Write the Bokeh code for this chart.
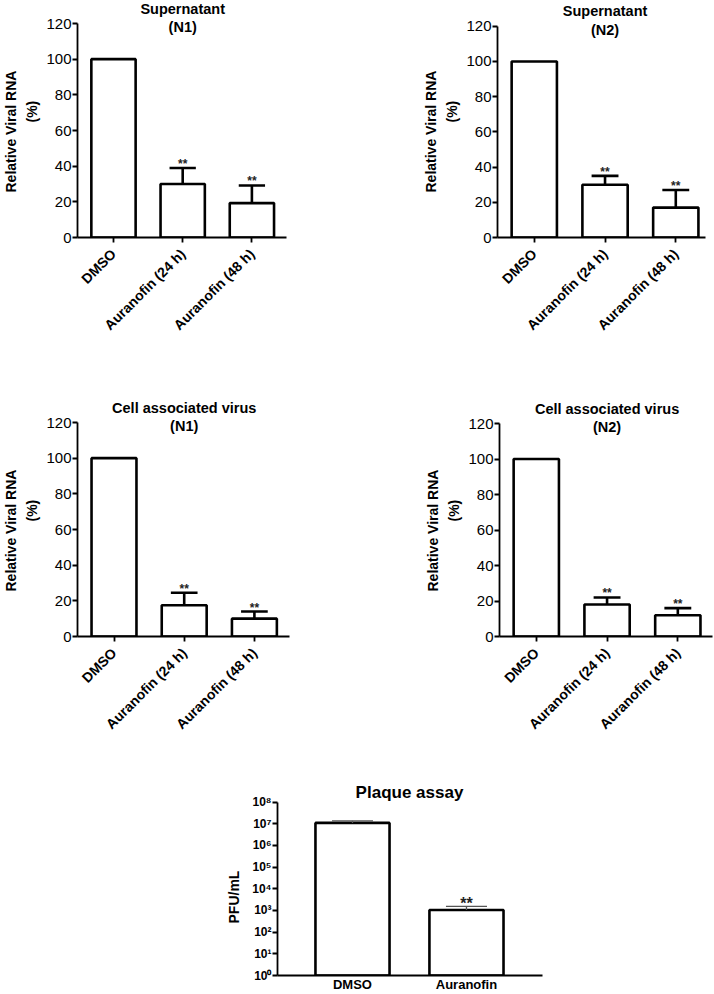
import math
from bokeh.plotting import figure
from bokeh.layouts import column, row
from bokeh.models import Range1d, FixedTicker, CustomJSTickFormatter, Title
from bokeh.core.properties import value
from bokeh.embed import file_html
from bokeh.resources import INLINE

FONT = "Liberation Sans"

# ---------------- data ----------------
categories = ["DMSO", "Auranofin (24 h)", "Auranofin (48 h)"]
y_ticks = [0, 20, 40, 60, 80, 100, 120]
y_label_lines = ["Relative Viral RNA", "(%)"]

sup_n1_mean = [100, 30, 19.3]
sup_n1_sd = [0, 9, 9.9]

sup_n2_mean = [100, 30, 17]
sup_n2_sd = [0, 5, 10]

cell_n1_mean = [100, 17.5, 10]
cell_n1_sd = [0, 7, 4]

cell_n2_mean = [100, 18, 12]
cell_n2_sd = [0, 4, 4]

plaque_categories = ["DMSO", "Auranofin"]
plaque_mean = [1.1e7, 1.05e3]
plaque_sd = [0.27e7, 0.5e3]
plaque_ticks = [1e0, 1e1, 1e2, 1e3, 1e4, 1e5, 1e6, 1e7, 1e8]


def style_axes(p):
    p.grid.visible = False
    p.outline_line_color = None
    p.background_fill_color = "white"
    p.border_fill_color = "white"
    p.axis.axis_line_width = 1.8
    p.axis.axis_line_color = "black"
    p.axis.major_tick_line_width = 1.8
    p.axis.major_tick_line_color = "black"
    p.axis.minor_tick_line_color = None
    p.axis.major_tick_in = 0
    p.axis.major_tick_out = 5
    p.axis.major_label_text_font = FONT
    p.axis.axis_label_text_font = FONT
    p.axis.major_label_text_color = "black"
    p.axis.axis_label_text_color = "black"


def side_title(text, offset, standoff, size="14px"):
    # vertical axis caption line, placed in the left side panel
    return Title(text=text, align="left", offset=offset, standoff=standoff,
                 text_font=FONT, text_font_size=size, text_font_style="bold",
                 text_color="black")


def pct_panel(t1, t2, means, sds, x_end, fl, fr, y120, y0px, x0, top, w, h):
    # frame starts at the figure top; y120/y0px are pixel rows of 120 and 0
    xs = list(range(len(categories)))
    y_end = 120 * (y0px - top) / (y0px - y120)
    p = figure(width=w, height=h, title=None, toolbar_location=None,
               output_backend="svg",
               x_range=Range1d(-0.52, x_end), y_range=Range1d(0, y_end),
               min_border_left=fl - x0, min_border_right=x0 + w - fr,
               min_border_top=0, min_border_bottom=top + h - y0px)
    style_axes(p)
    p.vbar(x=xs, top=means, bottom=0, width=0.64, fill_color="white",
           line_color="black", line_width=2.6)
    ex = [xs[i] for i in range(len(xs)) if sds[i] > 0]
    lo = [means[i] for i in range(len(xs)) if sds[i] > 0]
    hi = [means[i] + sds[i] for i in range(len(xs)) if sds[i] > 0]
    p.segment(x0=ex, y0=lo, x1=ex, y1=hi, line_color="black", line_width=2.6)
    p.segment(x0=[x - 0.19 for x in ex], y0=hi, x1=[x + 0.19 for x in ex], y1=hi,
              line_color="black", line_width=2.6)
    p.text(x=ex, y=hi, text=["**"] * len(ex), text_align="center",
           text_baseline="alphabetic", y_offset=-4,
           text_font=value(FONT), text_font_style="bold", text_font_size="12px",
           text_color="#222222")

    # two-line panel title, centred over the middle category
    p.text(x=[1, 1], y=[120, 120], text=[t1, t2], y_offset=[-15, 3.5],
           text_align="center", text_baseline="middle",
           text_font=value(FONT), text_font_style="bold", text_font_size="14.5px",
           text_color="black")

    p.xaxis.ticker = FixedTicker(ticks=xs)
    p.xaxis.major_label_overrides = {i: c for i, c in enumerate(categories)}
    p.xaxis.major_label_orientation = math.pi / 4
    p.xaxis.major_label_text_font_style = "bold"
    p.xaxis.major_label_text_font_size = "14px"
    p.xaxis.major_label_standoff = 9

    p.yaxis.bounds = (0, 120)
    p.yaxis.ticker = FixedTicker(ticks=y_ticks)
    p.yaxis.major_label_text_font_size = "15px"
    p.yaxis.major_label_standoff = 1

    # y caption: "(%)" nearest the axis, then "Relative Viral RNA"
    p.add_layout(side_title(y_label_lines[1], 115, 7), "left")
    p.add_layout(side_title(y_label_lines[0], 45, 0), "left")
    return p


p1 = pct_panel("Supernatant", "(N1)", sup_n1_mean, sup_n1_sd, 2.5,
               70, 286, 23, 237, 0, 0, 420, 380)
p2 = pct_panel("Supernatant", "(N2)", sup_n2_mean, sup_n2_sd, 2.42,
               495, 705, 26, 239, 420, 0, 294, 380)
p3 = pct_panel("Cell associated virus", "(N1)", cell_n1_mean, cell_n1_sd, 2.5,
               73, 289, 422, 636, 0, 380, 422, 380)
p4 = pct_panel("Cell associated virus", "(N2)", cell_n2_mean, cell_n2_sd, 2.49,
               497, 712, 423, 636, 422, 380, 292, 380)

# ---------------- plaque assay ----------------
px = list(range(len(plaque_categories)))
top5, y8px, y0px5, h5 = 760, 802, 977, 234
exp_end = 8 * (y0px5 - top5) / (y0px5 - y8px)
p5 = figure(width=714, height=h5, title=None, toolbar_location=None,
            output_backend="svg", y_axis_type="log",
            x_range=Range1d(-0.658, 1.667), y_range=Range1d(1, 10 ** exp_end),
            min_border_left=277, min_border_right=714 - 542,
            min_border_top=0, min_border_bottom=top5 + h5 - y0px5)
style_axes(p5)
p5.vbar(x=px, top=plaque_mean, bottom=1, width=0.65, fill_color="white",
        line_color="black", line_width=2.6)
p_hi = [m + s for m, s in zip(plaque_mean, plaque_sd)]
p5.segment(x0=px, y0=plaque_mean, x1=px, y1=p_hi, line_color="#555555", line_width=1.3)
p5.segment(x0=[x - 0.18 for x in px], y0=p_hi, x1=[x + 0.18 for x in px], y1=p_hi,
           line_color="#555555", line_width=1.3)
p5.text(x=[px[1]], y=[p_hi[1]], text=["**"], text_align="center",
        text_baseline="alphabetic", y_offset=-3,
        text_font=value(FONT), text_font_style="bold", text_font_size="16px",
        text_color="#222222")
p5.text(x=[0.5], y=[1e8], text=["Plaque assay"], y_offset=-10,
        text_align="center", text_baseline="middle", text_font=value(FONT),
        text_font_style="bold", text_font_size="17px", text_color="black")
p5.xaxis.ticker = FixedTicker(ticks=px)
p5.xaxis.major_label_overrides = {i: c for i, c in enumerate(plaque_categories)}
p5.xaxis.major_tick_line_color = None
p5.xaxis.major_tick_out = 0
p5.xaxis.major_label_standoff = 1
p5.xaxis.major_label_text_font_style = "bold"
p5.xaxis.major_label_text_font_size = "13px"
p5.yaxis.bounds = (1, 1e8)
p5.yaxis.ticker = FixedTicker(ticks=plaque_ticks)
p5.yaxis.formatter = CustomJSTickFormatter(code="""
const sup = ['\u2070','\u00b9','\u00b2','\u00b3','\u2074','\u2075','\u2076','\u2077','\u2078','\u2079'];
const e = Math.round(Math.log10(tick));
return '10' + sup[e];
""")
p5.yaxis.major_label_text_font_style = "bold"
p5.yaxis.major_label_text_font_size = "12px"
p5.yaxis.major_label_standoff = 1
p5.add_layout(side_title("PFU/mL", 52, 16), "left")

layout = column(row(p1, p2), row(p3, p4), p5)
open("out.html", "w").write(file_html(layout, INLINE, "Auranofin"))
